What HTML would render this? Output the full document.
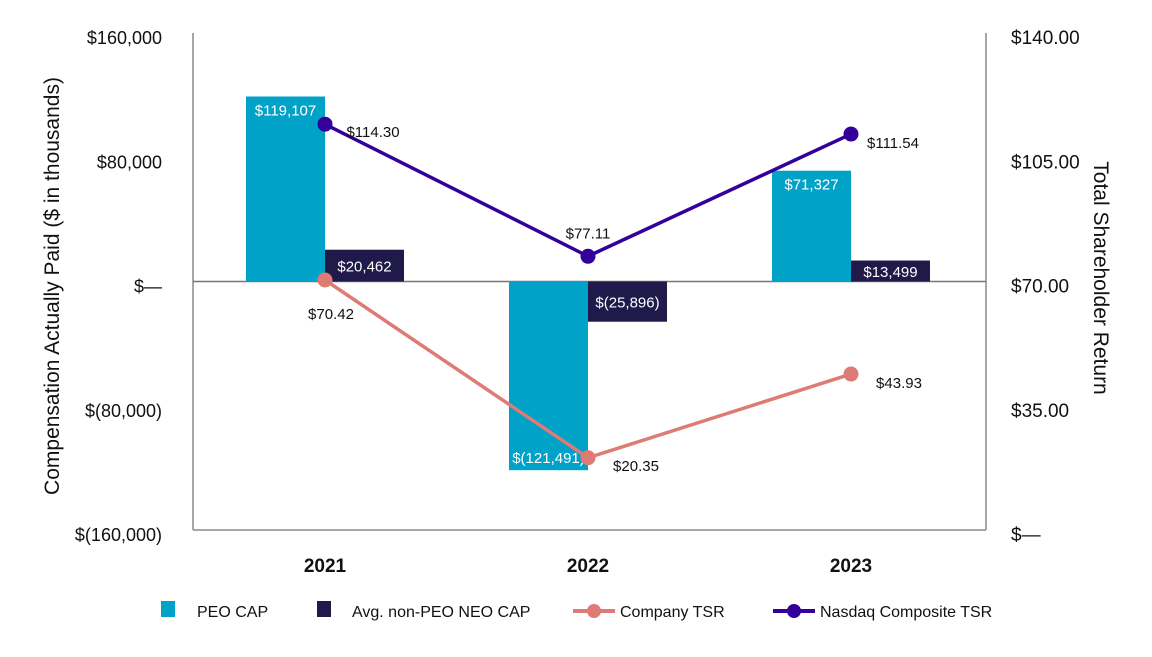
<!DOCTYPE html>
<html><head><meta charset="utf-8"><style>
html,body{margin:0;padding:0;background:#fff;}
svg text{font-family:"Liberation Sans",sans-serif;}
</style></head><body>
<svg id="chart" width="1152" height="652" xmlns="http://www.w3.org/2000/svg">
<g id="axes"></g>
<g id="bars"></g>
<g id="lines"></g>
<g id="legend"></g>
</svg>
<script>
const years = ["2021","2022","2023"];
const peoCap = [119107, -121491, 71327];
const neoCap = [20462, -25896, 13499];
const companyTsr = [70.42, 20.35, 43.93];
const nasdaqTsr = [114.30, 77.11, 111.54];
const leftTicks = [160000, 80000, 0, -80000, -160000];
const leftTickLabels = ["$160,000","$80,000","$\u2014","$(80,000)","$(160,000)"];
const rightTicks = [140, 105, 70, 35, 0];
const rightTickLabels = ["$140.00","$105.00","$70.00","$35.00","$\u2014"];
const peoLabels = ["$119,107","$(121,491)","$71,327"];
const neoLabels = ["$20,462","$(25,896)","$13,499"];
const companyLabels = ["$70.42","$20.35","$43.93"];
const nasdaqLabels = ["$114.30","$77.11","$111.54"];

const NS="http://www.w3.org/2000/svg";
const TOP=33,BOT=530,L=193,R=986;
const yL=v=>TOP+(160000-v)/320000*(BOT-TOP);
const yR=v=>TOP+(140-v)/140*(BOT-TOP);
const xC=i=>325+i*263;
const BW=79;
function mk(p,t,a){const el=document.createElementNS(NS,t);for(const k in a)el.setAttribute(k,a[k]);p.appendChild(el);return el;}
const axes=document.getElementById('axes'),bars=document.getElementById('bars'),lines=document.getElementById('lines'),legend=document.getElementById('legend');

let e;
e=mk(axes,'line',{x1:L,y1:TOP,x2:L,y2:BOT,stroke:'#8a8a8a','stroke-width':1.5});


e=mk(axes,'line',{x1:R,y1:TOP,x2:R,y2:BOT,stroke:'#8a8a8a','stroke-width':1.5});


e=mk(axes,'line',{x1:L,y1:BOT,x2:R,y2:BOT,stroke:'#8a8a8a','stroke-width':1.5});


leftTicks.forEach((v,i)=>{
  e=mk(axes,'text',{x:162,y:yL(v)+11,'text-anchor':'end','font-size':18,fill:'#111'});
  e.textContent=leftTickLabels[i];
  
  
});
rightTicks.forEach((v,i)=>{
  e=mk(axes,'text',{x:1011,y:yR(v)+11,'font-size':19,fill:'#111'});
  e.textContent=rightTickLabels[i];
  
  
});
years.forEach((y,i)=>{
  e=mk(axes,'text',{x:xC(i),y:572,'text-anchor':'middle','font-size':19,'font-weight':'bold',fill:'#111'});
  e.textContent=y;
  
  
});
e=mk(axes,'text',{transform:'translate(59,286) rotate(-90)','text-anchor':'middle','font-size':21,fill:'#111'});
e.textContent='Compensation Actually Paid ($ in thousands)';


e=mk(axes,'text',{transform:'translate(1094,278) rotate(90)','text-anchor':'middle','font-size':21,fill:'#111'});
e.textContent='Total Shareholder Return';



years.forEach((y,i)=>{
  const z=yL(0);
  let v=peoCap[i],yv=yL(v);
  e=mk(bars,'rect',{x:xC(i)-BW,y:Math.min(z,yv),width:BW,height:Math.abs(z-yv),fill:'#00a3c7'});
  
  
  e=mk(bars,'text',{x:xC(i)-BW/2,y:v>=0?yv+19:yv-7,'text-anchor':'middle','font-size':15,fill:'#fff'});
  e.textContent=peoLabels[i];
  
  
  v=neoCap[i];yv=yL(v);
  e=mk(bars,'rect',{x:xC(i),y:Math.min(z,yv),width:BW,height:Math.abs(z-yv),fill:'#1f1a4a'});
  
  
  e=mk(bars,'text',{x:xC(i)+BW/2,y:(z+yv)/2+6,'text-anchor':'middle','font-size':15,fill:'#fff'});
  e.textContent=neoLabels[i];
  
  
});
e=mk(axes,'line',{x1:L,y1:yL(0),x2:R,y2:yL(0),stroke:'#777','stroke-width':1.5});



function series(vals,labels,color,name,offs){
  e=mk(lines,'polyline',{points:vals.map((v,i)=>xC(i)+','+yR(v)).join(' '),fill:'none',stroke:color,'stroke-width':3.5});
  
  
  vals.forEach((v,i)=>{
    e=mk(lines,'circle',{cx:xC(i),cy:yR(v),r:7.5,fill:color});
    
    
    e=mk(lines,'text',{x:xC(i)+offs[i][0],y:yR(v)+offs[i][1],'text-anchor':'middle','font-size':15,fill:'#111'});
    e.textContent=labels[i];
    
    
  });
}
series(companyTsr,companyLabels,'#de7b74','company-tsr',[[6,39],[48,13],[48,14]]);
series(nasdaqTsr,nasdaqLabels,'#33009c','nasdaq-tsr',[[48,13],[0,-18],[42,14]]);

const lg=[{t:'PEO CAP',c:'#00a3c7',x:161,tx:197,k:'sq'},{t:'Avg. non-PEO NEO CAP',c:'#1f1a4a',x:317,tx:352,k:'sq'},{t:'Company TSR',c:'#de7b74',x:573,tx:620,k:'ln'},{t:'Nasdaq Composite TSR',c:'#33009c',x:773,tx:820,k:'ln'}];
lg.forEach(o=>{
  if(o.k==='sq'){e=mk(legend,'rect',{x:o.x,y:601,width:14,height:16,fill:o.c});}
  else{const g=mk(legend,'g',{});mk(g,'line',{x1:o.x,y1:611,x2:o.x+42,y2:611,stroke:o.c,'stroke-width':4});mk(g,'circle',{cx:o.x+21,cy:611,r:7,fill:o.c});e=g;}
  
  
  e=mk(legend,'text',{x:o.tx,y:617,'font-size':16,fill:'#111'});
  e.textContent=o.t;
  
  
});
</script>
</body></html>
